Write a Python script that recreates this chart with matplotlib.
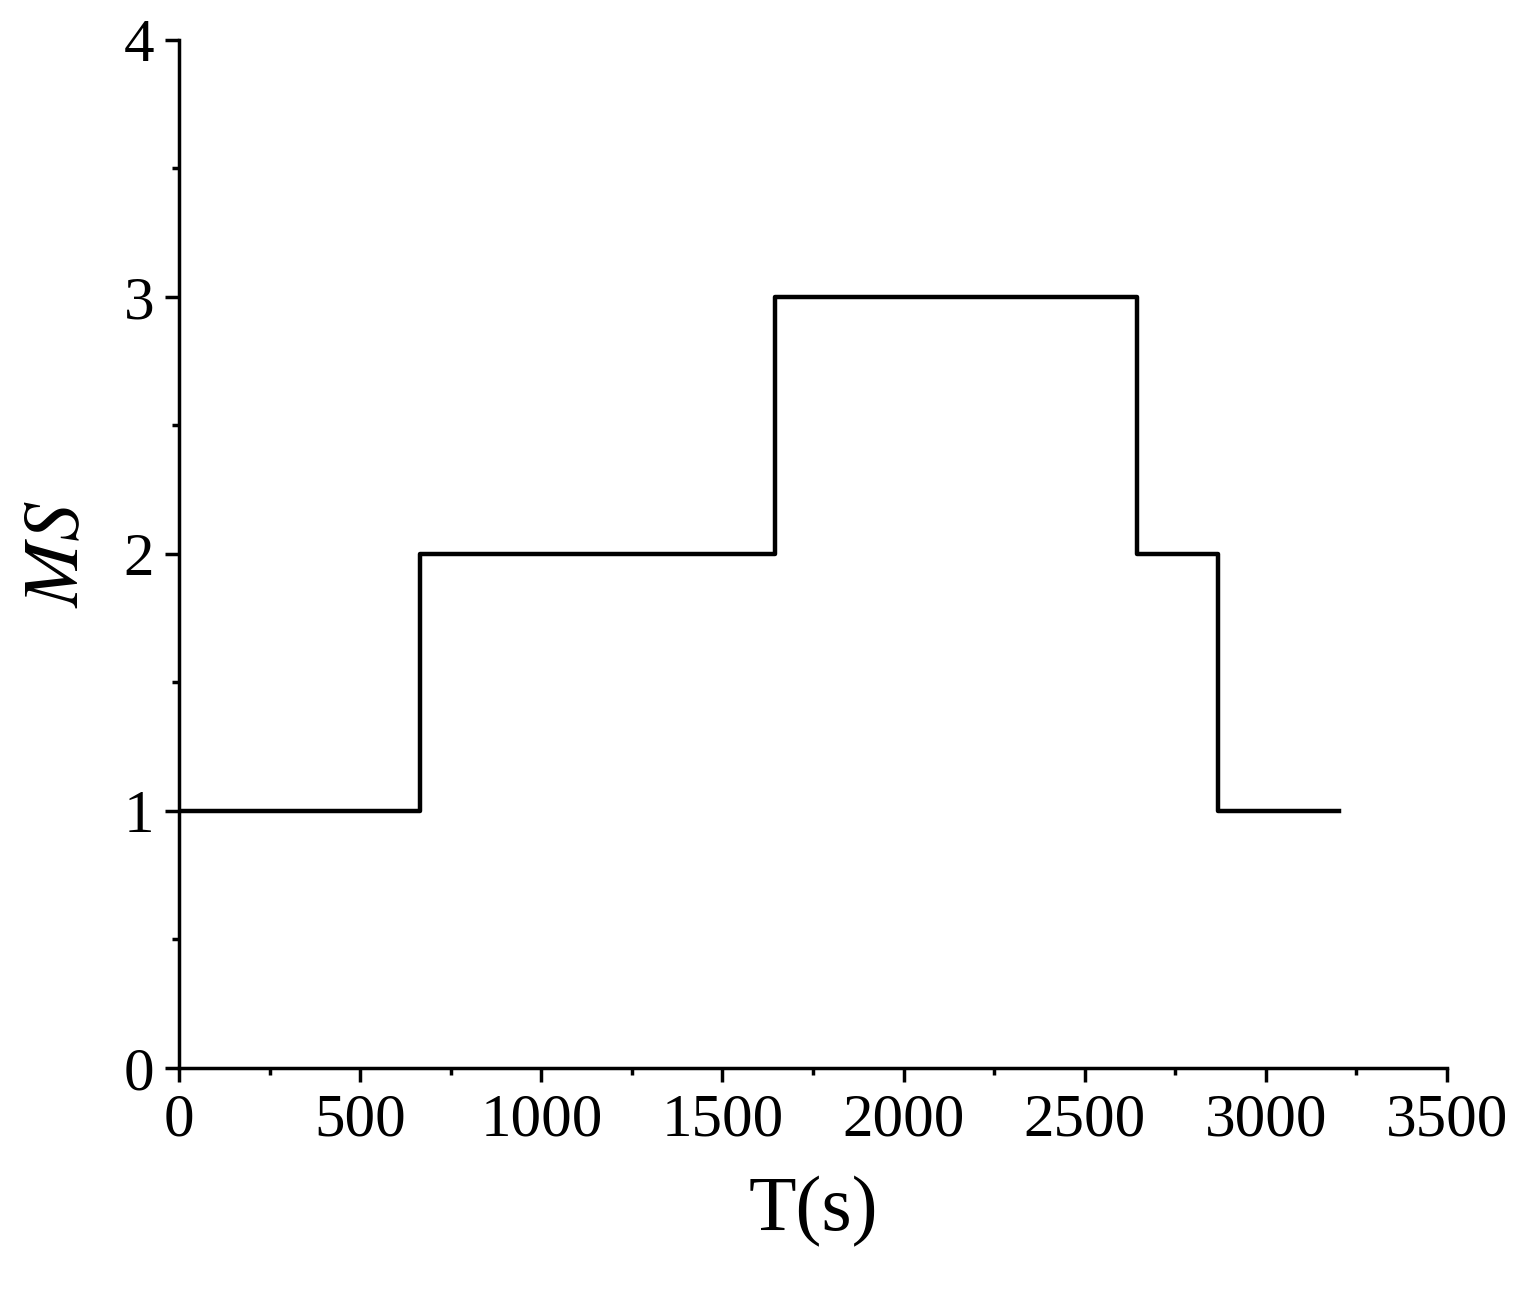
import matplotlib
matplotlib.use("Agg")
import matplotlib.pyplot as plt
from matplotlib.ticker import MultipleLocator

t = [0, 665, 665, 1645, 1645, 2644, 2644, 2868, 2868, 3202]
ms = [1, 1, 2, 2, 3, 3, 2, 2, 1, 1]
xticks = [0, 500, 1000, 1500, 2000, 2500, 3000, 3500]
yticks = [0, 1, 2, 3, 4]

plt.rcParams['font.family'] = ['Liberation Serif', 'DejaVu Serif']
plt.rcParams['mathtext.fontset'] = 'stix'
fig = plt.figure(figsize=(15.25, 13.07), dpi=100)
ax = fig.add_axes([0.1174, 0.1829, 0.8315, 0.7865])
ax.plot(t, ms, color='black', lw=3.2)
ax.set_xlim(0, 3500)
ax.set_ylim(0, 4)
ax.set_xticks(xticks)
ax.set_yticks(yticks)
ax.xaxis.set_minor_locator(MultipleLocator(250))
ax.yaxis.set_minor_locator(MultipleLocator(0.5))
for s in ['top', 'right']:
    ax.spines[s].set_visible(False)
for s in ['left', 'bottom']:
    ax.spines[s].set_linewidth(2.5)
ax.tick_params(which='major', direction='out', length=10, width=2.5, labelsize=44, pad=8)
ax.tick_params(which='minor', direction='out', length=5, width=2.5)
ax.set_xlabel('T(s)', fontsize=56, labelpad=20)
ax.set_ylabel('$MS$', fontsize=56, labelpad=20)
fig.savefig('out.png', dpi=100)
